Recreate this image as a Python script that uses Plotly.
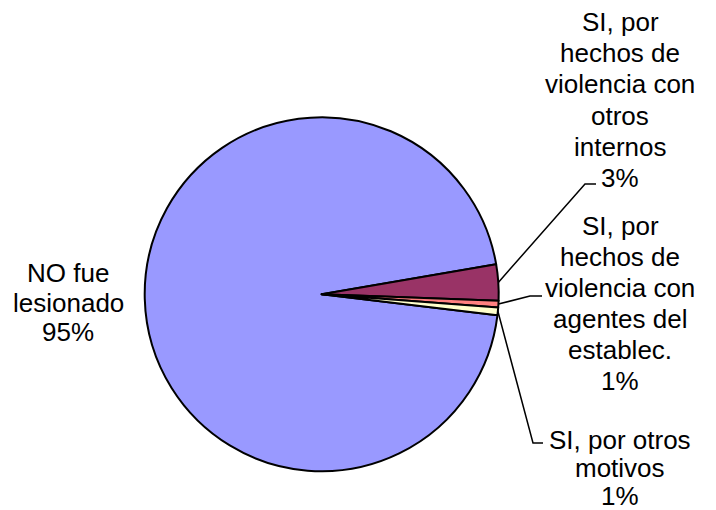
import math
import plotly.graph_objects as go

# ---- data ----
categories = [
    "NO fue lesionado",
    "SI, por hechos de violencia con otros internos",
    "SI, por hechos de violencia con agentes del establec.",
    "SI, por otros motivos",
]
values = [95.4, 3.3, 0.6, 0.7]
label_lines = [
    ["NO fue", "lesionado"],
    ["SI, por", "hechos de", "violencia con", "otros", "internos"],
    ["SI, por", "hechos de", "violencia con", "agentes del", "establec."],
    ["SI, por otros", "motivos"],
]
colors = ["#9999FF", "#993366", "#FF8080", "#FFFFCC"]

# ---- layout params (pixels) ----
W, H = 716, 510
CX, CY, R = 321.7, 294.2, 177.0
ROTATION = 96.8
FONT = dict(family="Liberation Sans, Arial, sans-serif", size=26, color="black")

# label placement: (center x, first line y, line spacing)
label_pos = [
    (68, 273, 29.5),
    (620, 22, 31.2),
    (620, 226, 31.0),
    (620, 440, 28.0),
]
# leader elbows (px): (elbow point, end point); None for no leader
leaders = [
    None,
    ((585, 184), (596, 184)),
    ((530, 296), (542, 296)),
    ((533, 443), (543, 443)),
]


def px2paper(x, y):
    return x / W, 1 - y / H


total = sum(values)
pct = [f"{round(v / total * 100):d}%" for v in values]

fig = go.Figure()
fig.add_trace(
    go.Pie(
        labels=categories,
        values=values,
        sort=False,
        direction="clockwise",
        rotation=ROTATION,
        textinfo="none",
        hoverinfo="label+percent",
        marker=dict(colors=colors, line=dict(color="black", width=2)),
        domain=dict(
            x=[(CX - R) / W, (CX + R) / W],
            y=[1 - (CY + R) / H, 1 - (CY - R) / H],
        ),
        showlegend=False,
    )
)

annotations = []
shapes = []
cum = 0.0
for i, v in enumerate(values):
    mid = math.radians(ROTATION + 360.0 * (cum + v / 2) / total)
    cum += v
    ex = CX + R * math.sin(mid)
    ey = CY - R * math.cos(mid)
    lines = label_lines[i] + [pct[i]]
    lx, ly, sp = label_pos[i]
    for k, t in enumerate(lines):
        px, py = px2paper(lx, ly + k * sp)
        annotations.append(
            dict(
                x=px, y=py, xref="paper", yref="paper", text=t,
                showarrow=False, xanchor="center", yanchor="middle", font=FONT,
            )
        )
    if leaders[i] is not None:
        (bx, by), (fx, fy) = leaders[i]
        p0 = px2paper(ex, ey)
        p1 = px2paper(bx, by)
        p2 = px2paper(fx, fy)
        shapes.append(
            dict(
                type="path", xref="paper", yref="paper",
                path=f"M {p0[0]} {p0[1]} L {p1[0]} {p1[1]} L {p2[0]} {p2[1]}",
                line=dict(color="black", width=1.5),
            )
        )

fig.update_layout(
    width=W, height=H,
    margin=dict(l=0, r=0, t=0, b=0),
    paper_bgcolor="white", plot_bgcolor="white",
    annotations=annotations, shapes=shapes,
)
fig.write_html(
    "out.html",
    config={"displayModeBar": False},
    post_script="document.body.style.margin='0px';document.body.style.overflow='hidden';",
)
